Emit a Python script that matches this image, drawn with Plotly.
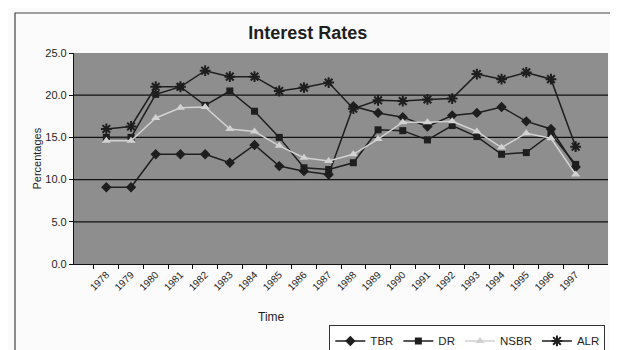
import plotly.graph_objects as go

years = [str(y) for y in range(1978, 1998)]
TBR = [9.1, 9.1, 13.0, 13.0, 13.0, 12.0, 14.1, 11.6, 11.0, 10.6, 18.7, 17.9, 17.4, 16.3, 17.6, 17.9, 18.6, 16.9, 16.0, 11.5]
DR = [15.0, 15.0, 20.1, 21.0, 18.8, 20.5, 18.1, 15.0, 11.4, 11.2, 12.0, 15.9, 15.8, 14.7, 16.4, 15.1, 13.0, 13.2, 15.4, 11.8]
NSBR = [14.6, 14.6, 17.3, 18.5, 18.6, 16.0, 15.7, 14.0, 12.6, 12.2, 13.0, 14.8, 16.8, 16.8, 16.9, 15.7, 13.8, 15.5, 14.9, 10.6]
ALR = [16.0, 16.3, 21.0, 21.0, 22.9, 22.2, 22.2, 20.5, 20.9, 21.5, 18.4, 19.4, 19.3, 19.5, 19.6, 22.5, 21.9, 22.7, 21.9, 13.9]
y_ticks = [0, 5, 10, 15, 20, 25]
grid_vals = [5, 10, 15, 20]

FONT = "Liberation Sans, Arial, sans-serif"
INK = "#1e1e1e"

fig = go.Figure()
fig.add_trace(go.Scatter(x=years, y=TBR, name="TBR", mode="lines+markers",
                         line=dict(color=INK, width=1.5),
                         marker=dict(symbol="diamond", size=8, color=INK)))
fig.add_trace(go.Scatter(x=years, y=DR, name="DR", mode="lines+markers",
                         line=dict(color=INK, width=1.5),
                         marker=dict(symbol="square", size=7, color=INK)))
fig.add_trace(go.Scatter(x=years, y=NSBR, name="NSBR", mode="lines+markers",
                         line=dict(color="#d2d2d2", width=1.5),
                         marker=dict(symbol="triangle-up", size=8, color="#d2d2d2")))
fig.add_trace(go.Scatter(x=years, y=ALR, name="ALR", mode="lines+markers",
                         line=dict(color=INK, width=1.5),
                         marker=dict(symbol="asterisk-open", size=9,
                                     line=dict(color=INK, width=2))))

shapes = []
for v in grid_vals:
    shapes.append(dict(type="line", xref="paper", yref="y", x0=0, x1=1, y0=v, y1=v,
                       line=dict(color="#111111", width=1.3), layer="below"))
# outer frame of the scanned chart
shapes.append(dict(type="rect", xref="paper", yref="paper",
                   x0=-0.1105, x1=1.07, y0=-0.4408, y1=1.1896,
                   line=dict(color="#444444", width=1.2)))

fig.update_layout(
    width=618, height=350,
    margin=dict(l=66, r=18, t=45, b=94, autoexpand=False),
    paper_bgcolor="#fbfbfb",
    plot_bgcolor="#8e8e8e",
    font=dict(family=FONT, color=INK),
    title=dict(text="<b>Interest Rates</b>", x=0.485, xanchor="center",
               y=0.93, yanchor="middle", font=dict(size=18, color=INK)),
    showlegend=True,
    legend=dict(orientation="h", xref="container", yref="container",
                x=0.52, xanchor="left", y=0.093, yanchor="top",
                bgcolor="#ffffff", bordercolor="#333333", borderwidth=1,
                font=dict(size=11.5, color=INK), itemwidth=30,
                tracegroupgap=0),
    shapes=shapes,
    annotations=[
        dict(text="Time", xref="paper", yref="paper", x=0.369, y=-0.295,
             showarrow=False, font=dict(size=12, color=INK)),
        dict(text="Percentages", xref="paper", yref="paper", x=-0.086, y=0.5,
             textangle=-90, showarrow=False, font=dict(size=11, color=INK)),
    ],
)
fig.update_xaxes(type="category", showgrid=False, showline=True, linecolor="#111111",
                 linewidth=1.2, ticks="outside", tickson="boundaries", ticklen=4,
                 tickcolor="#111111", tickangle=-45, tickfont=dict(size=10, color=INK),
                 zeroline=False)
fig.update_yaxes(range=[0, 25], tickvals=y_ticks,
                 ticktext=[f"{v:.1f}" for v in y_ticks], showgrid=False,
                 showline=True, linecolor="#111111", linewidth=1.2,
                 ticks="outside", ticklen=4, tickcolor="#111111",
                 tickfont=dict(size=11, color=INK), zeroline=False)

fig.write_html("out.html")
